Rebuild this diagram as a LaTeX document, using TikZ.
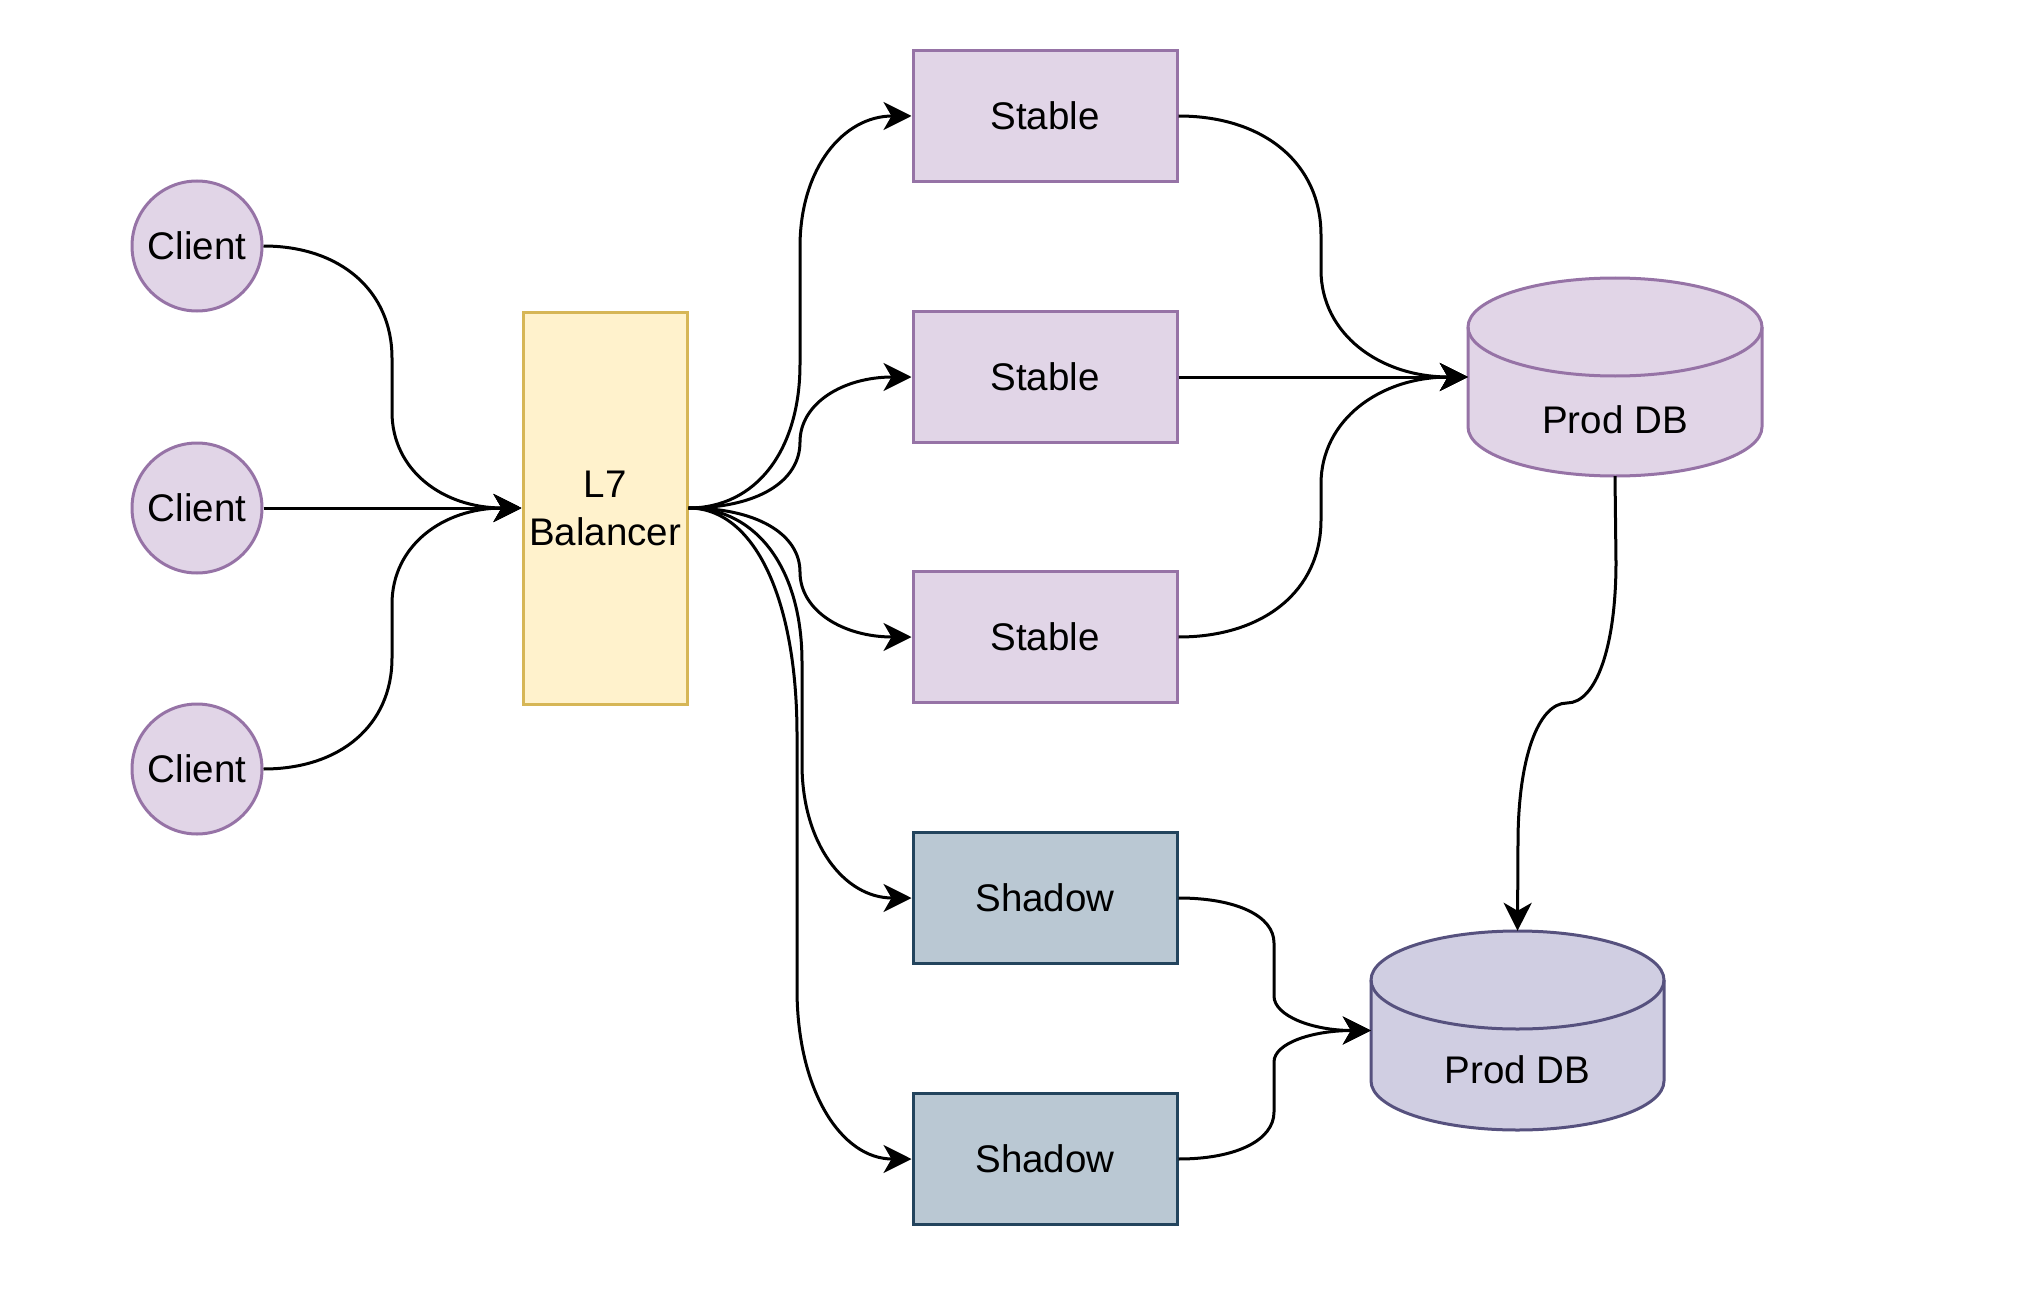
\documentclass[tikz,border=0pt]{standalone}
\usepackage{fontspec}
\setmainfont{Liberation Sans}
\usetikzlibrary{arrows.meta}
\definecolor{pfill}{HTML}{E1D5E7}
\definecolor{pdraw}{HTML}{9673A6}
\definecolor{yfill}{HTML}{FFF2CC}
\definecolor{ydraw}{HTML}{D6B656}
\definecolor{sfill}{HTML}{BAC8D3}
\definecolor{sdraw}{HTML}{23445D}
\definecolor{dfill}{HTML}{D0CEE2}
\definecolor{ddraw}{HTML}{56517E}
\tikzset{
  base/.style={inner sep=0pt, line width=3pt, font=\fontsize{38.5}{48}\selectfont, align=center},
  client/.style={base, circle, draw=pdraw, fill=pfill, minimum size=130pt},
  stablebox/.style={base, rectangle, draw=pdraw, fill=pfill, minimum width=264pt, minimum height=131pt},
  shadowbox/.style={base, rectangle, draw=sdraw, fill=sfill, minimum width=264pt, minimum height=131pt},
  lbbox/.style={base, rectangle, draw=ydraw, fill=yfill, minimum width=164pt, minimum height=392pt},
  dbanchor/.style={inner sep=0pt, minimum width=294pt, minimum height=198pt},
  dbtext/.style={base},
  conn/.style={line width=3pt, -{Stealth[length=28pt, width=28pt, inset=8pt]}},
}
\begin{document}
\begin{tikzpicture}[x=1pt, y=-1pt]
\useasboundingbox (0,0) rectangle (2030,1292);

% clients
\node[client] (c1) at (197,246) {Client};
\node[client] (c2) at (197,508) {Client};
\node[client] (c3) at (197,769) {Client};

% balancer
\node[lbbox] (lb) at (605,508) {L7\\Balancer};

% stables and shadows
\node[stablebox] (s1) at (1045,116) {Stable};
\node[stablebox] (s2) at (1045,377) {Stable};
\node[stablebox] (s3) at (1045,637) {Stable};
\node[shadowbox] (h1) at (1045,898) {Shadow};
\node[shadowbox] (h2) at (1045,1159) {Shadow};

% Prod DB 1 (cylinder)
\node[dbanchor] (db1) at (1615,377) {};
\path[fill=pfill, draw=pdraw, line width=3pt]
  (1468,327) -- (1468,427) arc[start angle=180, end angle=360, x radius=147pt, y radius=49pt]
  -- (1762,327) arc[start angle=0, end angle=180, x radius=147pt, y radius=49pt] -- cycle;
\draw[draw=pdraw, line width=3pt] (1468,327) arc[start angle=180, end angle=360, x radius=147pt, y radius=49pt];
\node[dbtext] (db1t) at (1615,420) {Prod DB};

% Prod DB 2 (cylinder)
\node[dbanchor, minimum width=293pt, minimum height=199pt] (db2) at (1517.5,1030.5) {};
\path[fill=dfill, draw=ddraw, line width=3pt]
  (1371,980) -- (1371,1081) arc[start angle=180, end angle=360, x radius=146.5pt, y radius=49pt]
  -- (1664,980) arc[start angle=0, end angle=180, x radius=146.5pt, y radius=49pt] -- cycle;
\draw[draw=ddraw, line width=3pt] (1371,980) arc[start angle=180, end angle=360, x radius=146.5pt, y radius=49pt];
\node[dbtext] (db2t) at (1517.5,1070) {Prod DB};

% clients -> balancer
\draw[conn] (c1.east) .. controls +(77,0) and +(0,-67) .. (392,358) -- (392,412) .. controls +(0,58) and +(-79,0) .. (lb.west);
\draw[conn] (c2.east) -- (lb.west);
\draw[conn] (c3.east) .. controls +(77,0) and +(0,67) .. (392,658) -- (392,604) .. controls +(0,-58) and +(-79,0) .. (lb.west);

% balancer -> stables / shadows
\draw[conn] (lb.east) .. controls +(68,0) and +(0,86) .. (800,364) -- (800,247) .. controls +(0,-79) and +(-68,0) .. (s1.west);
\draw[conn] (lb.east) .. controls +(68,0) and +(0,40) .. (800,442) .. controls +(0,-39) and +(-68,0) .. (s2.west);
\draw[conn] (lb.east) .. controls +(68,0) and +(0,-38) .. (800,572) .. controls +(0,39) and +(-68,0) .. (s3.west);
\draw[conn] (lb.east) .. controls +(69,0) and +(0,-92) .. (802,662) -- (802,764) .. controls +(0,80) and +(-67,0) .. (h1.west);
\draw[conn] (lb.east) .. controls +(66,0) and +(0,-136) .. (797,735) -- (797,989) .. controls +(0,102) and +(-70,0) .. (h2.west);

% stables -> Prod DB 1
\draw[conn] (s1.east) .. controls +(86,0) and +(0,-71) .. (1321,235) -- (1321,270) .. controls +(0,64) and +(-88,0) .. (db1.west);
\draw[conn] (s2.east) -- (db1.west);
\draw[conn] (s3.east) .. controls +(86,0) and +(0,70) .. (1321,520) -- (1321,484) .. controls +(0,-64) and +(-88,0) .. (db1.west);

% shadows -> Prod DB 2
\draw[conn] (h1.east) .. controls +(58,0) and +(0,-27) .. (1274,943) -- (1274,996) .. controls +(0,20) and +(-58,0) .. (db2.west);
\draw[conn] (h2.east) .. controls +(58,0) and +(0,28) .. (1274,1112) -- (1274,1062) .. controls +(0,-19) and +(-58,0) .. (db2.west);

% Prod DB 1 -> Prod DB 2
\draw[conn] (db1.south) -- (1616,562) .. controls +(0,85) and +(29,0) .. (1567,703) .. controls +(-29,0) and +(0,-84) .. (1518,843) -- (db2.north);
\end{tikzpicture}
\end{document}
